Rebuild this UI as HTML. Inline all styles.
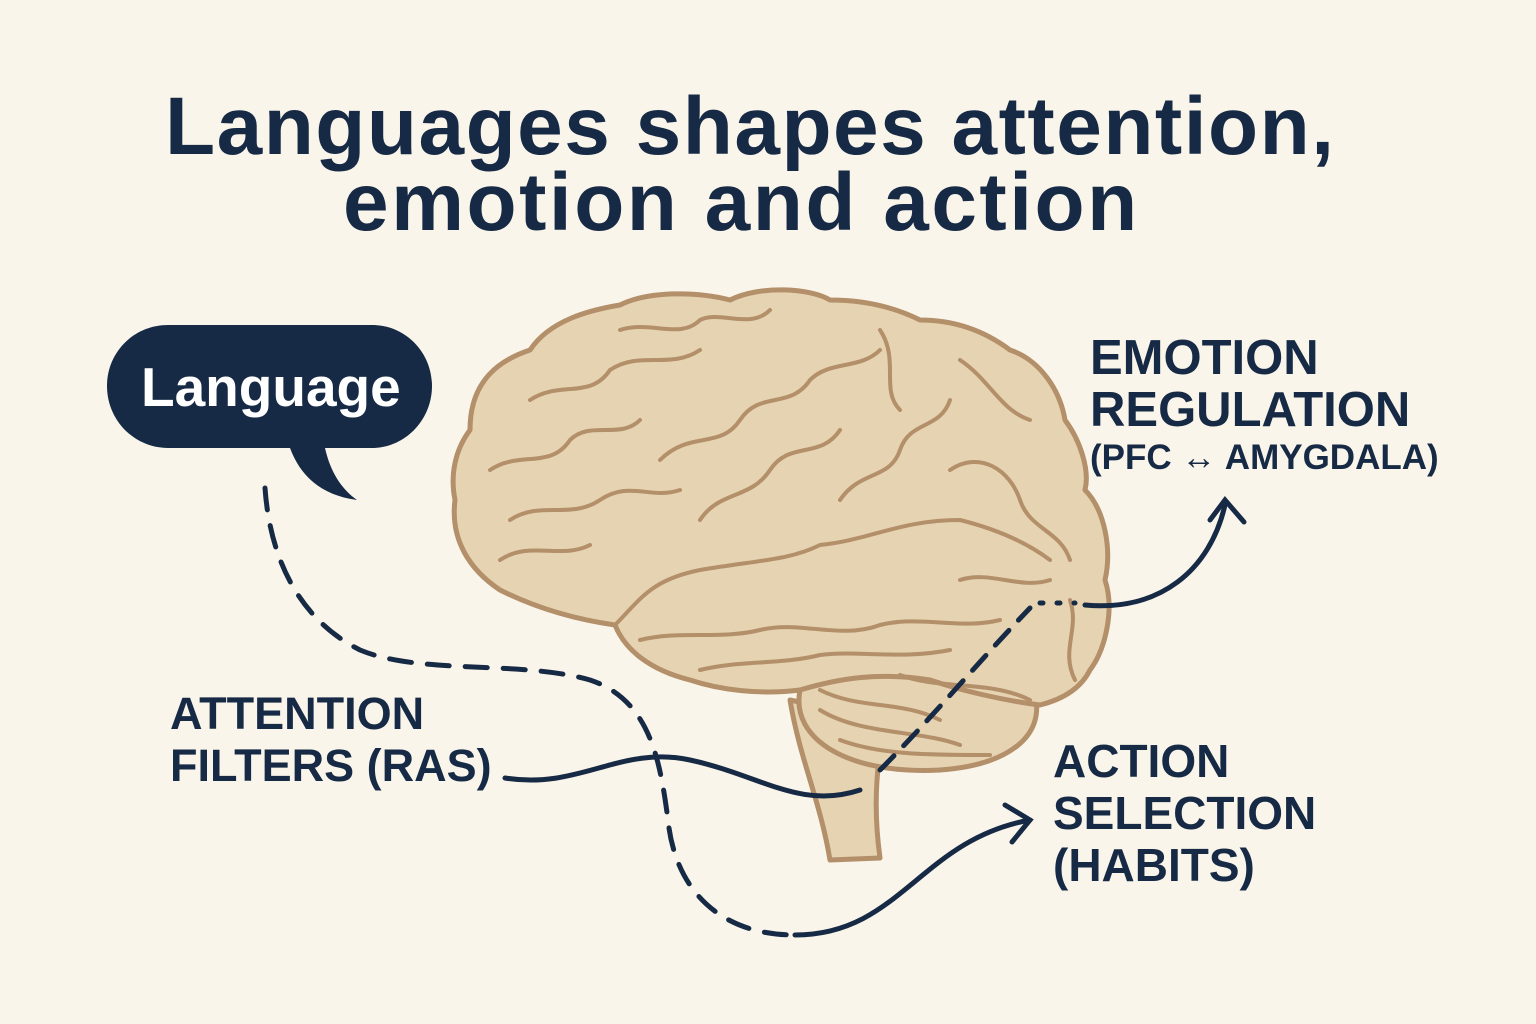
<!DOCTYPE html>
<html><head><meta charset="utf-8"><style>
html,body{margin:0;padding:0;background:#faf5ea;}
body{width:1536px;height:1024px;position:relative;overflow:hidden;font-family:"Liberation Sans","DejaVu Sans",sans-serif;}
.t{position:absolute;color:#172a45;font-weight:bold;white-space:nowrap;}
</style></head><body>
<svg width="1536" height="1024" style="position:absolute;left:0;top:0">
<g fill="#e6d3b1" stroke="#b38f6a" stroke-width="5" stroke-linejoin="round" stroke-linecap="round">
<path d="M790 700 C800 760 820 800 830 860 L880 858 C872 800 878 760 885 720 Z"/>
<path d="M800 690 C790 740 850 775 940 770 C1010 765 1045 735 1035 695 C1000 660 860 650 800 690 Z"/>
<path d="M470 430 C470 380 500 360 530 350 C550 320 590 310 620 305 C650 290 700 292 730 300 C760 285 810 288 830 300 C870 300 900 310 920 320 C960 320 990 335 1010 350 C1040 360 1060 390 1065 420 C1080 440 1090 470 1085 490 C1105 510 1112 550 1105 580 C1115 610 1105 650 1090 670 C1080 690 1060 700 1040 705 C1000 700 960 690 930 680 C880 672 840 678 800 690 C760 695 720 690 690 680 C650 670 625 650 615 625 C580 620 540 610 500 590 C470 570 450 540 455 500 C450 475 455 450 470 430 Z"/>
</g>
<g fill="none" stroke="#b38f6a" stroke-width="4" stroke-linecap="round">
<path d="M615 625 C640 600 650 580 700 570 C760 560 790 560 820 545 C870 540 900 520 960 520 C1000 530 1030 545 1050 560"/>
<path d="M640 640 C680 630 720 640 760 630 C800 620 840 640 880 625 C920 615 960 630 1000 620"/>
<path d="M700 670 C740 660 780 665 820 655 C860 650 900 660 950 650"/>
<path d="M500 560 C530 540 560 560 590 545"/><path d="M510 520 C540 500 570 520 600 500 C630 480 650 500 680 490"/>
<path d="M490 470 C520 450 550 470 570 440 C590 420 620 440 640 420"/>
<path d="M530 400 C560 380 590 400 610 370 C640 350 670 370 700 350"/>
<path d="M620 330 C650 320 680 340 700 320 C720 310 750 330 770 310"/>
<path d="M660 460 C690 430 720 450 740 420 C760 390 790 410 810 380 C830 360 860 370 880 350"/>
<path d="M700 520 C720 490 750 500 770 470 C790 440 820 460 840 430"/>
<path d="M840 500 C860 470 890 480 900 450 C910 420 940 430 950 400"/>
<path d="M880 330 C900 360 880 390 900 410"/><path d="M960 360 C990 380 1000 410 1030 420"/>
<path d="M950 470 C980 450 1010 470 1020 500 C1030 530 1060 530 1070 560"/>
<path d="M960 580 C990 570 1020 590 1050 580"/><path d="M1070 600 C1080 630 1060 650 1075 680"/>
<path d="M820 690 C860 710 900 700 940 720"/><path d="M820 710 C860 735 920 730 960 745"/><path d="M840 740 C880 755 930 755 990 755"/>
<path d="M900 675 C940 690 990 680 1030 700"/>
</g>
<path d="M168 325 L372 325 C405 325 432 352 432 386 C432 420 405 448 372 448 L325 448 C330 470 340 488 357 500 C320 495 300 475 290 448 L168 448 C134 448 107 420 107 386 C107 352 134 325 168 325 Z" fill="#172a45"/>
<g fill="none" stroke="#172a45" stroke-width="5" stroke-linecap="round">
<path d="M265 488 C270 560 300 620 360 650 C420 675 520 660 590 680 C650 700 660 760 668 820 C675 890 720 935 795 935" stroke-dasharray="22 16"/>
<path d="M795 935 C900 935 920 840 1030 820"/>
<path d="M1005 805 L1030 820 L1012 842"/>
<path d="M505 778 C580 790 620 745 690 760 C760 775 800 810 860 790"/>
<path d="M880 770 C930 720 980 660 1030 608" stroke-dasharray="20 14"/>
<path d="M1040 603 L1075 603" stroke-dasharray="3 14"/>
<path d="M1085 605 C1160 612 1210 570 1225 505"/>
<path d="M1210 520 L1225 500 L1244 522"/>
</g>
</svg>
<div class="t" style="left:165px;top:80px;font-size:82px;letter-spacing:1.5px">Languages shapes attention,</div>
<div class="t" style="left:343px;top:156px;font-size:82px;letter-spacing:2.5px">emotion and action</div>
<div class="t" style="left:141px;top:355px;font-size:55px;color:#fff">Language</div>
<div class="t" style="left:1090px;top:332px;font-size:49px;line-height:52px">EMOTION<br>REGULATION</div>
<div class="t" style="left:1090px;top:438px;font-size:35px">(PFC ↔ AMYGDALA)</div>
<div class="t" style="left:170px;top:688px;font-size:45px;line-height:52px">ATTENTION<br>FILTERS (RAS)</div>
<div class="t" style="left:1053px;top:735px;font-size:46px;line-height:52px">ACTION<br>SELECTION<br>(HABITS)</div>
</body></html>
